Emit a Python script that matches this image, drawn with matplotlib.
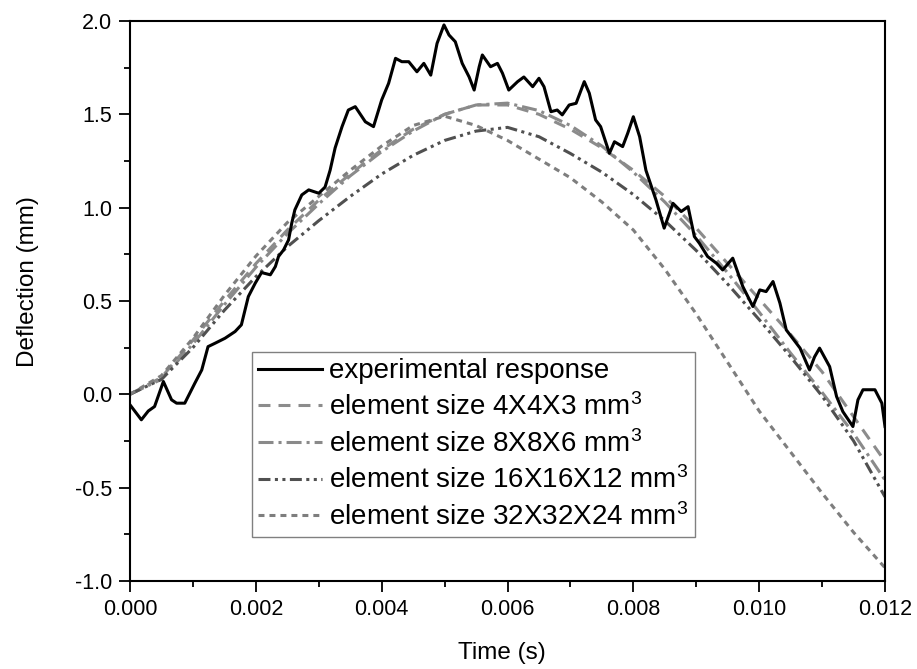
import matplotlib
matplotlib.use("Agg")
import matplotlib.pyplot as plt
from matplotlib.ticker import MultipleLocator, FormatStrFormatter

plt.rcParams['font.family'] = ['Liberation Sans', 'DejaVu Sans']
plt.rcParams['mathtext.fontset'] = 'custom'
plt.rcParams['mathtext.rm'] = 'Liberation Sans'
plt.rcParams['mathtext.it'] = 'Liberation Sans'
plt.rcParams['lines.scale_dashes'] = False

# Experimental response
exp_t = [0.00000, 0.00018, 0.00029, 0.00039, 0.00053, 0.00066, 0.00074, 0.00087, 0.00103, 0.00114,
         0.00124, 0.00135, 0.00151, 0.00167, 0.00177, 0.00188, 0.00199, 0.00209, 0.00223, 0.00231,
         0.00236, 0.00244, 0.00252, 0.00257, 0.00262, 0.00273, 0.00284, 0.00300, 0.00310, 0.00318,
         0.00326, 0.00337, 0.00347, 0.00358, 0.00374, 0.00387, 0.00400, 0.00411, 0.00422, 0.00432,
         0.00443, 0.00456, 0.00467, 0.00478, 0.00488, 0.00499, 0.00507, 0.00517, 0.00528, 0.00539,
         0.00547, 0.00555, 0.00560, 0.00573, 0.00584, 0.00592, 0.00602, 0.00616, 0.00626, 0.00640,
         0.00650, 0.00658, 0.00669, 0.00679, 0.00687, 0.00698, 0.00709, 0.00722, 0.00730, 0.00740,
         0.00748, 0.00762, 0.00770, 0.00783, 0.00791, 0.00800, 0.00810, 0.00820, 0.00836, 0.00849,
         0.00863, 0.00876, 0.00887, 0.00897, 0.00905, 0.00918, 0.00932, 0.00942, 0.00958, 0.00974,
         0.00990, 0.01001, 0.01011, 0.01022, 0.01033, 0.01043, 0.01065, 0.01080, 0.01088, 0.01096,
         0.01112, 0.01123, 0.01133, 0.01149, 0.01157, 0.01165, 0.01184, 0.01195, 0.01200]
exp_y = [-0.057, -0.137, -0.090, -0.066, 0.068, -0.030, -0.048, -0.048, 0.059, 0.130,
         0.255, 0.273, 0.300, 0.336, 0.372, 0.523, 0.595, 0.652, 0.640, 0.684,
         0.738, 0.773, 0.827, 0.916, 0.988, 1.068, 1.095, 1.077, 1.110, 1.200,
         1.320, 1.434, 1.523, 1.541, 1.460, 1.434, 1.577, 1.666, 1.800, 1.782,
         1.782, 1.728, 1.773, 1.710, 1.880, 1.979, 1.925, 1.889, 1.773, 1.700,
         1.630, 1.755, 1.818, 1.755, 1.773, 1.720, 1.630, 1.675, 1.700, 1.648,
         1.693, 1.648, 1.514, 1.523, 1.497, 1.550, 1.559, 1.675, 1.613, 1.470,
         1.434, 1.291, 1.353, 1.327, 1.398, 1.487, 1.380, 1.200, 1.041, 0.890,
         1.023, 0.979, 1.005, 0.845, 0.809, 0.738, 0.702, 0.666, 0.729, 0.577,
         0.470, 0.559, 0.550, 0.604, 0.488, 0.345, 0.247, 0.130, 0.200, 0.247,
         0.148, -0.012, -0.093, -0.173, -0.030, 0.024, 0.024, -0.048, -0.173]

# Simulations (sampled every 0.0005 s)
sim_t = [0.0, 0.0005, 0.001, 0.0015, 0.002, 0.0025, 0.003, 0.0035, 0.004, 0.0045,
         0.005, 0.0055, 0.006, 0.0065, 0.007, 0.0075, 0.008, 0.0085, 0.009, 0.0095,
         0.010, 0.0105, 0.011, 0.0115, 0.012]
size_4 = [0.00, 0.09, 0.29, 0.50, 0.70, 0.88, 1.04, 1.18, 1.31, 1.42,
          1.50, 1.55, 1.55, 1.50, 1.42, 1.32, 1.20, 1.06, 0.89, 0.70,
          0.51, 0.32, 0.12, -0.12, -0.36]
size_8 = [0.00, 0.08, 0.27, 0.48, 0.68, 0.86, 1.02, 1.17, 1.30, 1.41,
          1.50, 1.55, 1.56, 1.52, 1.44, 1.33, 1.19, 1.03, 0.85, 0.65,
          0.44, 0.22, 0.01, -0.21, -0.46]
size_16 = [0.00, 0.08, 0.25, 0.45, 0.63, 0.79, 0.93, 1.06, 1.18, 1.28,
           1.36, 1.41, 1.43, 1.38, 1.29, 1.19, 1.07, 0.93, 0.77, 0.59,
           0.40, 0.20, -0.01, -0.25, -0.55]
size_32 = [0.00, 0.10, 0.30, 0.53, 0.74, 0.92, 1.06, 1.20, 1.33, 1.44,
           1.49, 1.44, 1.36, 1.26, 1.16, 1.03, 0.88, 0.67, 0.43, 0.17,
           -0.09, -0.31, -0.53, -0.74, -0.93]

labels = ["experimental response",
          "element size 4X4X3 mm$^3$",
          "element size 8X8X6 mm$^3$",
          "element size 16X16X12 mm$^3$",
          "element size 32X32X24 mm$^3$"]

fig = plt.figure(figsize=(9.17, 6.69), dpi=100)
ax = fig.add_axes([0.1418, 0.1318, 0.8233, 0.8368])

lw = 2.2
ax.plot(exp_t, exp_y, color='black', lw=lw, label=labels[0], zorder=5)
ax.plot(sim_t, size_4, color='#8c8c8c', lw=lw, linestyle=(0, (8.6, 5.8)), label=labels[1])
ax.plot(sim_t, size_8, color='#8a8a8a', lw=lw, linestyle=(0, (10.8, 3.6, 2.2, 3.6)), label=labels[2])
ax.plot(sim_t, size_16, color='#505050', lw=lw, linestyle=(0, (8.6, 3.2, 2.2, 3.2, 2.2, 3.2)), label=labels[3])
ax.plot(sim_t, size_32, color='#7e7e7e', lw=lw, linestyle=(0, (4.3, 3.6)), label=labels[4])

ax.set_xlim(0, 0.012)
ax.set_ylim(-1.0, 2.0)
ax.xaxis.set_major_locator(MultipleLocator(0.002))
ax.xaxis.set_minor_locator(MultipleLocator(0.001))
ax.yaxis.set_major_locator(MultipleLocator(0.5))
ax.yaxis.set_minor_locator(MultipleLocator(0.25))
ax.xaxis.set_major_formatter(FormatStrFormatter('%.3f'))
ax.yaxis.set_major_formatter(FormatStrFormatter('%.1f'))
ax.tick_params(which='major', direction='out', length=7.9, width=1.3, labelsize=15.5)
ax.tick_params(axis='x', which='major', pad=5)
ax.tick_params(axis='y', which='major', pad=5)
ax.tick_params(which='minor', direction='out', length=4.3, width=1.3)
ax.tick_params(top=False, right=False, which='both')
for s in ax.spines.values():
    s.set_linewidth(1.5)

ax.set_xlabel("Time (s)", fontsize=17.5)
ax.set_ylabel("Deflection (mm)", fontsize=17.5)
ax.xaxis.set_label_coords(0.493, -0.109)
ax.yaxis.set_label_coords(-0.120, 0.535)

leg = ax.legend(loc='lower left', bbox_to_anchor=(0.162, 0.078), fontsize=20,
                frameon=True, fancybox=False, edgecolor='#808080', framealpha=1,
                handlelength=2.3, handletextpad=0.25, labelspacing=0.32,
                borderpad=0.22, borderaxespad=0)
leg.get_frame().set_linewidth(1.0)

fig.savefig("out.png", dpi=100)
